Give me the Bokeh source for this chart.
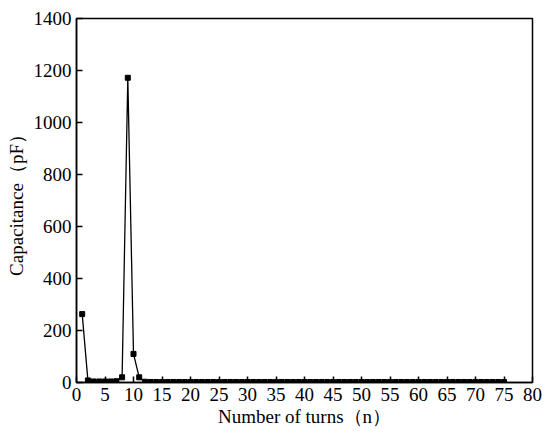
from bokeh.plotting import figure
from bokeh.models import Range1d, FixedTicker, ColumnDataSource
from bokeh.embed import file_html
from bokeh.resources import INLINE

turns = list(range(1, 76))
capacitance = [263, 8, 4, 4, 4, 4, 5, 20, 1172, 110, 20, 3] + [2] * 63

x_ticks = list(range(0, 81, 5))
y_ticks = list(range(0, 1401, 200))

src = ColumnDataSource(data=dict(n=turns, c=capacitance))

p = figure(frame_width=456, frame_height=364, output_backend="svg", toolbar_location=None,
           x_range=Range1d(0, 80), y_range=Range1d(0, 1400),
           min_border_left=76, min_border_right=14, min_border_top=18, min_border_bottom=52)

p.line("n", "c", source=src, line_color="black", line_width=1.3)
p.scatter("n", "c", source=src, marker="square", size=5, color="black")

p.grid.visible = False
p.outline_line_color = "black"
p.outline_line_width = 1.5

font = "Liberation Serif"
for ax, ticks in ((p.xaxis[0], x_ticks), (p.yaxis[0], y_ticks)):
    ax.ticker = FixedTicker(ticks=ticks)
    ax.major_tick_in = 6
    ax.major_tick_out = 0
    ax.minor_tick_in = 0
    ax.minor_tick_out = 0
    ax.axis_line_width = 1.5
    ax.major_tick_line_width = 1.5
    ax.axis_line_color = "black"
    ax.major_tick_line_color = "black"
    ax.major_label_text_font = font
    ax.major_label_text_font_size = "19px"
    ax.major_label_text_color = "black"
    ax.axis_label_text_font = font
    ax.axis_label_text_font_size = "19px"
    ax.axis_label_text_font_style = "normal"
    ax.axis_label_text_color = "black"

p.xaxis.axis_label = "Number of turns（n）"
p.yaxis.axis_label = "Capacitance（pF）"
p.xaxis.major_label_standoff = 5
p.yaxis.major_label_standoff = 5
p.xaxis.axis_label_standoff = 2
p.yaxis.axis_label_standoff = 4

open("out.html", "w").write(file_html(p, INLINE))
